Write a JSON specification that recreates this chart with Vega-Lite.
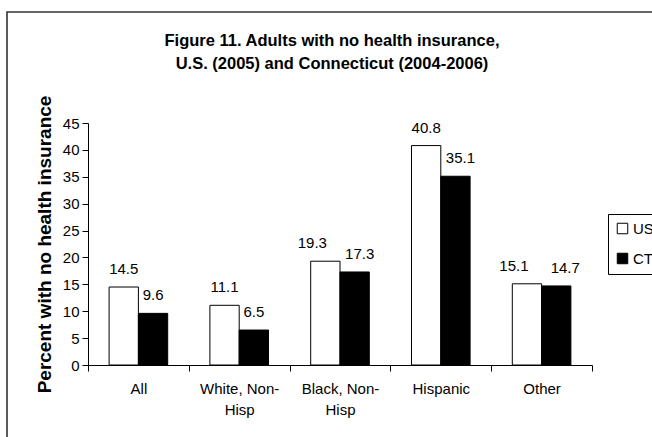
{
  "$schema": "https://vega.github.io/schema/vega-lite/v6.json",
  "width": 650,
  "height": 430,
  "autosize": "none",
  "padding": {"left": 7, "top": 12, "right": -5, "bottom": -5},
  "background": "white",
  "config": {
    "view": {"stroke": "#333333", "strokeWidth": 1.6},
    "font": "Liberation Sans",
    "text": {"font": "Liberation Sans"}
  },
  "title": {
    "text": ["Figure 11. Adults with no health insurance,", "U.S. (2005) and Connecticut (2004-2006)"],
    "fontSize": 16.5,
    "fontWeight": "bold",
    "font": "Liberation Sans",
    "color": "black",
    "lineHeight": 23,
    "offset": -60,
    "anchor": "middle",
    "frame": "group"
  },
  "data": {
    "values": [
      {"category": "All", "series": "US", "value": 14.5},
      {"category": "All", "series": "CT", "value": 9.6},
      {"category": "White, Non-Hisp", "series": "US", "value": 11.1},
      {"category": "White, Non-Hisp", "series": "CT", "value": 6.5},
      {"category": "Black, Non-Hisp", "series": "US", "value": 19.3},
      {"category": "Black, Non-Hisp", "series": "CT", "value": 17.3},
      {"category": "Hispanic", "series": "US", "value": 40.8},
      {"category": "Hispanic", "series": "CT", "value": 35.1},
      {"category": "Other", "series": "US", "value": 15.1},
      {"category": "Other", "series": "CT", "value": 14.7}
    ]
  },
  "encoding": {
    "x": {
      "field": "category",
      "type": "nominal",
      "sort": ["All", "White, Non-Hisp", "Black, Non-Hisp", "Hispanic", "Other"],
      "scale": {"range": [81, 585], "paddingInner": 0, "paddingOuter": 0},
      "axis": {
        "orient": "bottom",
        "offset": -77,
        "title": null,
        "tickBand": "extent",
        "tickSize": 6,
        "tickColor": "black",
        "domainColor": "black",
        "labelAngle": 0,
        "labelPadding": 10,
        "labelFontSize": 15,
        "labelColor": "black",
        "labelLineHeight": 21,
        "labelLimit": 0,
        "labelOverlap": false,
        "labelExpr": "datum.label == 'White, Non-Hisp' ? ['White, Non-', 'Hisp'] : datum.label == 'Black, Non-Hisp' ? ['Black, Non-', 'Hisp'] : datum.label"
      }
    },
    "xOffset": {
      "field": "series",
      "type": "nominal",
      "sort": ["US", "CT"],
      "scale": {"paddingOuter": 0.72, "paddingInner": 0}
    },
    "y": {
      "field": "value",
      "type": "quantitative",
      "scale": {"domain": [0, 45], "range": [353, 111], "nice": false, "zero": true},
      "axis": {
        "orient": "left",
        "offset": -81,
        "values": [0, 5, 10, 15, 20, 25, 30, 35, 40, 45],
        "grid": false,
        "tickSize": 6,
        "tickColor": "black",
        "domainColor": "black",
        "labelPadding": 3,
        "labelFontSize": 15,
        "labelColor": "black",
        "title": "Percent with no health insurance",
        "titleFontSize": 19,
        "titleFontWeight": "bold",
        "titleColor": "black",
        "titleAngle": -90,
        "titleX": -38,
        "titleY": 232,
        "titleAlign": "center",
        "titleBaseline": "alphabetic"
      }
    }
  },
  "layer": [
    {
      "mark": {"type": "bar", "stroke": "black", "strokeWidth": 1},
      "encoding": {
        "color": {
          "field": "series",
          "type": "nominal",
          "sort": ["US", "CT"],
          "scale": {"domain": ["US", "CT"], "range": ["white", "black"]},
          "legend": {
            "orient": "none",
            "legendX": 601,
            "legendY": 202,
            "title": null,
            "strokeColor": "black",
            "fillColor": "white",
            "padding": 7,
            "rowPadding": 14,
            "symbolType": "square",
            "symbolSize": 110,
            "symbolStrokeColor": "black",
            "symbolStrokeWidth": 1,
            "labelFontSize": 15,
            "labelColor": "black",
            "labelOffset": 3
          }
        }
      }
    },
    {
      "transform": [{"filter": "datum.category === 'All' || datum.category === 'White, Non-Hisp' || (datum.category === 'Hispanic' && datum.series === 'US')"}],
      "mark": {"type": "text", "baseline": "alphabetic", "dy": -13, "fontSize": 15, "color": "black"},
      "encoding": {"text": {"field": "value", "type": "quantitative", "format": ".1f"}}
    },
    {
      "transform": [{"filter": "(datum.category === 'Other' || datum.category === 'Black, Non-Hisp') && datum.series === 'US'"}],
      "mark": {"type": "text", "baseline": "alphabetic", "dy": -13, "dx": -13, "fontSize": 15, "color": "black"},
      "encoding": {"text": {"field": "value", "type": "quantitative", "format": ".1f"}}
    },
    {
      "transform": [{"filter": "datum.category === 'Other' && datum.series === 'CT'"}],
      "mark": {"type": "text", "baseline": "alphabetic", "dy": -13, "dx": 9, "fontSize": 15, "color": "black"},
      "encoding": {"text": {"field": "value", "type": "quantitative", "format": ".1f"}}
    },
    {
      "transform": [{"filter": "(datum.category === 'Black, Non-Hisp' || datum.category === 'Hispanic') && datum.series === 'CT'"}],
      "mark": {"type": "text", "baseline": "alphabetic", "dy": -13, "dx": 5, "fontSize": 15, "color": "black"},
      "encoding": {"text": {"field": "value", "type": "quantitative", "format": ".1f"}}
    }
  ]
}
